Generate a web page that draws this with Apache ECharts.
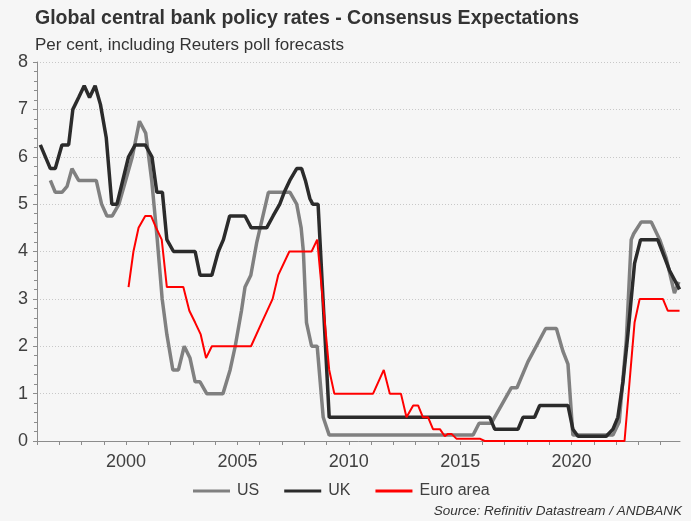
<!DOCTYPE html>
<html>
<head>
<meta charset="utf-8">
<script src="https://cdn.jsdelivr.net/npm/echarts@6/dist/echarts.min.js"></script>
<style>
html,body{margin:0;padding:0;background:#f6f6f6;}
#chart{width:691px;height:521px;}
</style>
</head>
<body>
<div id="chart"></div>
<script>
// ---- Data (decimal year, policy rate %) ----
const seriesNames = ['US', 'UK', 'Euro area'];
const usData = [[1996.6,5.5],[1996.82,5.25],[1997.12,5.25],[1997.35,5.375],[1997.57,5.75],[1997.87,5.5],[1998.66,5.5],[1998.9,5.0],[1999.14,4.75],[1999.38,4.75],[1999.68,5.0],[1999.98,5.5],[2000.28,6.0],[2000.6,6.75],[2000.88,6.5],[2001.15,5.5],[2001.4,4.25],[2001.62,3.0],[2001.83,2.25],[2002.1,1.5],[2002.35,1.5],[2002.61,2.0],[2002.87,1.75],[2003.1,1.25],[2003.32,1.25],[2003.62,1.0],[2004.35,1.0],[2004.67,1.5],[2004.9,2.0],[2005.18,2.75],[2005.34,3.25],[2005.6,3.5],[2005.87,4.2],[2006.39,5.25],[2007.36,5.25],[2007.66,5.0],[2007.86,4.5],[2007.96,4.0],[2008.1,2.5],[2008.33,2.0],[2008.58,2.0],[2008.85,0.5],[2009.12,0.125],[2015.58,0.125],[2015.85,0.375],[2016.4,0.375],[2017.3,1.125],[2017.55,1.125],[2018.04,1.67],[2018.84,2.375],[2019.32,2.375],[2019.61,1.9],[2019.84,1.625],[2020.06,0.125],[2021.86,0.125],[2022.14,0.4],[2022.46,2.13],[2022.68,4.25],[2022.79,4.375],[2023.13,4.625],[2023.58,4.625],[2023.96,4.25],[2024.25,3.86],[2024.62,3.12],[2024.82,3.36]];
const ukData = [[1996.15,6.25],[1996.6,5.75],[1996.82,5.75],[1997.12,6.25],[1997.42,6.25],[1997.61,7.0],[1997.87,7.25],[1998.12,7.5],[1998.36,7.25],[1998.61,7.5],[1998.85,7.1],[1999.11,6.4],[1999.36,5.0],[1999.59,5.0],[2000.11,6.0],[2000.41,6.25],[2000.86,6.25],[2001.16,6.0],[2001.38,5.25],[2001.63,5.25],[2001.83,4.25],[2002.13,4.0],[2003.1,4.0],[2003.32,3.5],[2003.85,3.5],[2004.14,4.0],[2004.37,4.25],[2004.65,4.75],[2005.34,4.75],[2005.62,4.5],[2006.31,4.5],[2006.6,4.75],[2006.9,5.0],[2007.1,5.25],[2007.35,5.5],[2007.66,5.75],[2007.88,5.75],[2008.05,5.5],[2008.25,5.12],[2008.38,5.0],[2008.62,5.0],[2009.12,0.5],[2016.33,0.5],[2016.55,0.25],[2017.6,0.25],[2017.82,0.5],[2018.34,0.5],[2018.57,0.75],[2019.84,0.75],[2020.06,0.25],[2020.29,0.1],[2021.56,0.1],[2021.86,0.25],[2022.08,0.5],[2022.31,1.25],[2022.53,2.25],[2022.83,3.75],[2023.1,4.25],[2023.87,4.25],[2024.4,3.6],[2024.85,3.2]];
const euroData = [[2000.11,3.25],[2000.33,4.0],[2000.56,4.5],[2000.86,4.75],[2001.12,4.75],[2001.35,4.5],[2001.6,4.25],[2001.83,3.25],[2002.57,3.25],[2002.84,2.75],[2003.1,2.5],[2003.35,2.25],[2003.59,1.75],[2003.85,2.0],[2005.61,2.0],[2006.09,2.5],[2006.58,3.0],[2006.83,3.5],[2007.33,4.0],[2008.33,4.0],[2008.58,4.25],[2009.12,1.5],[2009.35,1.0],[2011.09,1.0],[2011.57,1.5],[2011.84,1.0],[2012.34,1.0],[2012.59,0.5],[2012.89,0.75],[2013.11,0.75],[2013.33,0.5],[2013.56,0.5],[2013.78,0.25],[2014.09,0.25],[2014.31,0.1],[2014.45,0.15],[2014.61,0.15],[2014.83,0.05],[2015.88,0.05],[2016.1,0],[2022.38,0],[2022.83,2.5],[2023.06,3.0],[2024.1,3.0],[2024.32,2.75],[2024.85,2.75]];
const xLabelYears = [2000, 2005, 2010, 2015, 2020];
const yTicks = [0, 1, 2, 3, 4, 5, 6, 7, 8];

const FONT = 'Arial, "Liberation Sans", sans-serif';
const chart = echarts.init(document.getElementById('chart'), null, {renderer: 'canvas'});
chart.setOption({
  backgroundColor: '#f6f6f6',
  animation: false,
  title: [
    {text: 'Global central bank policy rates - Consensus Expectations', left: 35, top: 9, padding: 0,
     textStyle: {fontFamily: FONT, fontSize: 19.5, fontWeight: 'bold', color: '#333333'}},
    {text: 'Per cent, including Reuters poll forecasts', left: 35, top: 37, padding: 0,
     textStyle: {fontFamily: FONT, fontSize: 17, fontWeight: 'normal', color: '#333333'}}
  ],
  grid: {left: 37, right: 11, top: 62, bottom: 80, containLabel: false},
  xAxis: {
    type: 'value', min: 1996, max: 2024.87, interval: 1,
    axisLine: {show: true, lineStyle: {color: '#8c8c8c', width: 1}},
    axisTick: {show: true, length: 4, lineStyle: {color: '#8c8c8c'}},
    axisLabel: {margin: 12, fontFamily: FONT, fontSize: 18, color: '#404040',
      showMaxLabel: false,
      formatter: v => xLabelYears.indexOf(v) >= 0 ? String(v) : ''},
    splitLine: {show: false}
  },
  yAxis: {
    type: 'value', min: yTicks[0], max: yTicks[yTicks.length - 1], interval: 1,
    axisLine: {show: true, lineStyle: {color: '#8c8c8c', width: 1}},
    axisTick: {show: true, length: 4, lineStyle: {color: '#8c8c8c'}},
    minorTick: {show: true, splitNumber: 5, length: 3, lineStyle: {color: '#8c8c8c'}},
    axisLabel: {margin: 9, fontFamily: FONT, fontSize: 18, color: '#404040'},
    splitLine: {show: true, lineStyle: {color: '#c8c8c8', type: [1, 2], width: 1}}
  },
  legend: {
    left: 188, top: 478, itemGap: 25, itemWidth: 37, itemHeight: 3, icon: 'rect',
    data: seriesNames,
    textStyle: {fontFamily: FONT, fontSize: 16, color: '#404040', padding: [0, 0, 0, 2]}
  },
  graphic: [{
    type: 'text', right: 9, top: 504,
    style: {text: 'Source: Refinitiv Datastream / ANDBANK', font: 'italic 13.5px ' + FONT, fill: '#333333'}
  }],
  series: [
    {name: seriesNames[0], type: 'line', data: usData, showSymbol: false, color: '#808080',
     lineStyle: {color: '#808080', width: 3.5}, z: 2},
    {name: seriesNames[1], type: 'line', data: ukData, showSymbol: false, color: '#2b2b2b',
     lineStyle: {color: '#2b2b2b', width: 3.5}, z: 3},
    {name: seriesNames[2], type: 'line', data: euroData, showSymbol: false, color: '#ff0000',
     lineStyle: {color: '#ff0000', width: 2}, z: 4}
  ]
});
</script>
</body>
</html>
